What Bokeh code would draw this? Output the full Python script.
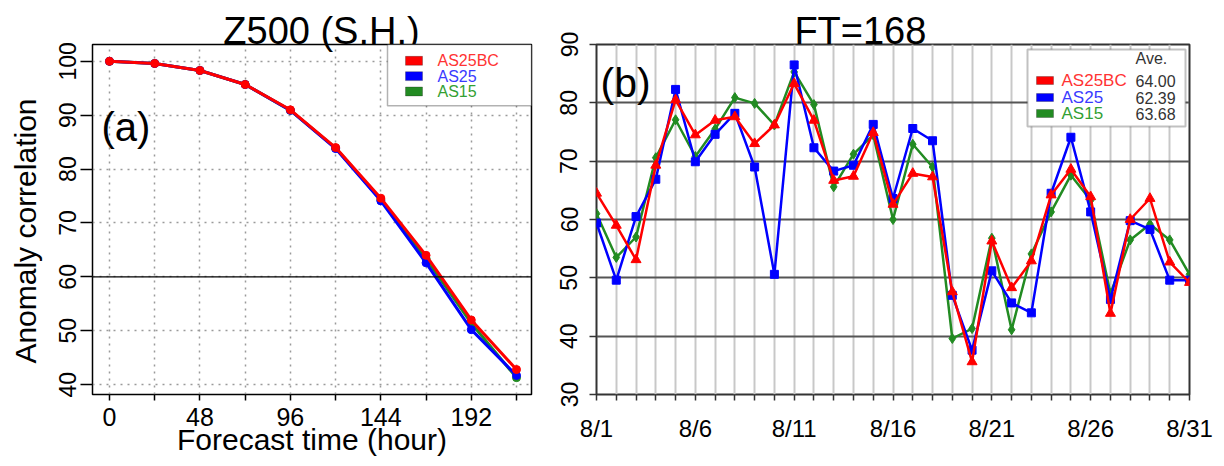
import math
from bokeh.plotting import figure
from bokeh.models import Range1d, FixedTicker, Span, Label, BoxAnnotation, LinearAxis
from bokeh.layouts import row
from bokeh.embed import file_html
from bokeh.resources import INLINE

FONT = "Liberation Sans"

# ---------------- data ----------------
series_names = ["AS25BC", "AS25", "AS15"]
series_colors = ["#ff0000", "#0000ff", "#228b22"]
legend_text_colors = ["#ff3333", "#3a3aff", "#33a033"]

# Panel (a): anomaly correlation vs forecast time
lead_hours = [0, 24, 48, 72, 96, 120, 144, 168, 192, 216]
lead_labels = ["0", "", "48", "", "96", "", "144", "", "192", ""]
acc_as25bc = [100.0, 99.6, 98.3, 95.7, 91.0, 84.0, 74.6, 64.0, 52.0, 42.8]
acc_as25 = [100.0, 99.6, 98.3, 95.7, 90.9, 83.8, 74.1, 62.6, 50.2, 41.7]
acc_as15 = [100.0, 99.6, 98.3, 95.7, 90.9, 83.9, 74.3, 63.4, 51.4, 41.3]
acc_yticks = [40, 50, 60, 70, 80, 90, 100]

# Panel (b): FT=168 daily scores in August
days = list(range(1, 32))
day_tick_labels = {1: "8/1", 6: "8/6", 11: "8/11", 16: "8/16", 21: "8/21", 26: "8/26", 31: "8/31"}
ft168_as25bc = [64.5, 59.0, 53.1, 69.3, 80.5, 74.5, 77.0, 77.6, 73.0, 76.2,
                83.3, 77.0, 66.7, 67.4, 74.9, 62.6, 67.9, 67.3, 47.6, 35.6,
                56.3, 48.3, 52.9, 64.2, 68.6, 63.9, 43.9, 60.0, 63.6, 52.7, 49.2]
ft168_as25 = [59.4, 49.6, 60.5, 66.9, 82.3, 69.9, 74.6, 78.2, 69.0, 50.6,
              86.5, 72.3, 68.3, 69.3, 76.3, 63.6, 75.6, 73.5, 47.0, 37.6,
              51.2, 45.7, 44.0, 64.5, 74.1, 61.3, 46.3, 59.8, 58.3, 49.6, 49.6]
ft168_as15 = [61.0, 53.5, 57.0, 70.6, 77.1, 70.8, 75.5, 80.9, 79.9, 76.2,
              85.3, 79.7, 65.6, 71.2, 74.5, 60.0, 72.9, 69.0, 39.6, 41.3,
              56.8, 41.1, 54.1, 61.3, 67.6, 63.3, 47.3, 56.5, 59.2, 56.5, 50.6]
ft168_yticks = [30, 40, 50, 60, 70, 80, 90]
ft168_ave = ["64.00", "62.39", "63.68"]

title_a = "Z500 (S.H.)"
title_b = "FT=168"
xlabel_a = "Forecast time (hour)"
ylabel_a = "Anomaly correlation"


def text_axis(center, text, standoff, size, orientation="horizontal"):
    """An axis with a single, tick-less label used to place a text outside the frame."""
    ax = LinearAxis(ticker=FixedTicker(ticks=[center]), major_label_overrides={center: text})
    ax.axis_line_color = None
    ax.major_tick_line_color = None
    ax.minor_tick_line_color = None
    ax.major_tick_in = 0
    ax.major_tick_out = 0
    ax.major_label_standoff = standoff
    ax.major_label_orientation = orientation
    ax.major_label_text_font = FONT
    ax.major_label_text_font_size = size
    ax.major_label_text_color = "black"
    return ax


# ---------------- panel (a) ----------------
WA = 540
AX0, AX1, AY0, AY1 = -9.02, 223.96, 38.17, 103.12
A_L, A_R, A_T, A_B = 92, 531, 43, 397

def lx(X):
    return AX0 + (X - A_L) * (AX1 - AX0) / (A_R - A_L)

def ly(Y):
    return AY1 - (Y - A_T) * (AY1 - AY0) / (A_B - A_T)

pa = figure(width=WA, height=466, x_range=Range1d(AX0, AX1), y_range=Range1d(AY0, AY1),
            output_backend="svg", toolbar_location=None, title=None,
            min_border_left=A_L, min_border_right=WA - A_R,
            min_border_top=A_T, min_border_bottom=466 - A_B)
pa.background_fill_color = "white"
pa.border_fill_color = "white"
pa.outline_line_color = "black"
pa.outline_line_width = 1.5

pa.xaxis.ticker = FixedTicker(ticks=lead_hours)
pa.xaxis.major_label_overrides = {h: lab for h, lab in zip(lead_hours, lead_labels)}
pa.yaxis.ticker = FixedTicker(ticks=acc_yticks)
pa.yaxis.major_label_orientation = "parallel"
for ax in (pa.xaxis[0], pa.yaxis[0]):
    ax.axis_line_color = None
    ax.major_tick_in = 0
    ax.minor_tick_line_color = None
    ax.major_tick_line_color = "black"
    ax.major_tick_line_width = 1.5
    ax.major_label_text_font = FONT
    ax.major_label_text_color = "black"
    ax.axis_label_text_font = FONT
    ax.axis_label_text_font_style = "normal"
    ax.axis_label_text_font_size = "30px"
    ax.axis_label_text_color = "black"
pa.xaxis.major_tick_out = 6
pa.xaxis.major_label_text_font_size = "25px"
pa.xaxis.major_label_standoff = 7
pa.xaxis.axis_label = xlabel_a
pa.xaxis.axis_label_standoff = -6
pa.yaxis.major_tick_out = 12
pa.yaxis.major_label_text_font_size = "23px"
pa.yaxis.major_label_standoff = 4
# y-axis title, placed a little below the frame centre as in the original
pa.add_layout(text_axis(68.5, ylabel_a, 14, "30px", "parallel"), "left")

for g in (pa.xgrid[0], pa.ygrid[0]):
    g.grid_line_color = "#9a9a9a"
    g.grid_line_width = 1.5
    g.grid_line_dash = "2 5"
pa.add_layout(Span(location=60, dimension="width", line_color="black", line_width=1.3))

for vals, col in [(acc_as15, series_colors[2]), (acc_as25, series_colors[1]), (acc_as25bc, series_colors[0])]:
    pa.line(lead_hours, vals, line_color=col, line_width=3)
    pa.scatter(lead_hours, vals, marker="circle", size=8, fill_color=col, line_color=col)

# legend (a)
pa.add_layout(BoxAnnotation(left=lx(387), right=lx(531), top=ly(43), bottom=ly(105),
                            fill_color="white", fill_alpha=1, line_color="black", line_width=1.5))
for i, (name, col, tcol) in enumerate(zip(series_names, series_colors, legend_text_colors)):
    cy = [59.5, 75, 90.5][i]
    pa.add_layout(BoxAnnotation(left=lx(405), right=lx(422), top=ly(cy - 4.5), bottom=ly(cy + 4.5),
                                fill_color=col, fill_alpha=1, line_color="#222222", line_width=1))
    pa.add_layout(Label(x=lx(437), y=ly(cy), text=name, text_align="left", text_baseline="middle",
                        text_font=FONT, text_font_size="16px", text_color=tcol))

pa.add_layout(Label(x=lx(101), y=ly(126), text="(a)", text_align="left",
                    text_baseline="alphabetic", text_font=FONT, text_font_size="40px", text_color="black"))
pa.add_layout(text_axis(112.5, title_a, -7, "38px"), "above")

# ---------------- panel (b) ----------------
OFF = 540
WB = 1224 - OFF
B_L, B_R, B_T, B_B = 596, 1189, 44, 394

def rx(X):
    return 1 + (X - B_L) * 30.0 / (B_R - B_L)

def ry(Y):
    return 90 - (Y - B_T) * 60.0 / (B_B - B_T)

pb = figure(width=WB, height=466, x_range=Range1d(1, 31), y_range=Range1d(30, 90),
            output_backend="svg", toolbar_location=None, title=None,
            min_border_left=B_L - OFF, min_border_right=OFF + WB - B_R,
            min_border_top=B_T, min_border_bottom=466 - B_B)
pb.background_fill_color = "white"
pb.border_fill_color = "white"
pb.outline_line_color = "#333333"
pb.outline_line_width = 2

pb.xaxis.ticker = FixedTicker(ticks=days)
pb.xaxis.major_label_overrides = {d: day_tick_labels.get(d, "") for d in days}
pb.yaxis.ticker = FixedTicker(ticks=ft168_yticks)
pb.yaxis.major_label_orientation = "parallel"
for ax in (pb.xaxis[0], pb.yaxis[0]):
    ax.axis_line_color = None
    ax.major_tick_in = 0
    ax.minor_tick_line_color = None
    ax.major_tick_line_color = "#333333"
    ax.major_tick_line_width = 1.5
    ax.major_label_text_font = FONT
    ax.major_label_text_color = "black"
pb.xaxis.major_tick_out = 6
pb.xaxis.major_label_text_font_size = "24px"
pb.xaxis.major_label_standoff = 14
pb.yaxis.major_tick_out = 7
pb.yaxis.major_label_text_font_size = "23px"
pb.yaxis.major_label_standoff = 12

pb.xgrid[0].grid_line_color = "#c8c8c8"
pb.xgrid[0].grid_line_width = 2
pb.ygrid[0].grid_line_color = "#555555"
pb.ygrid[0].grid_line_width = 2

pb.line(days, ft168_as15, line_color=series_colors[2], line_width=2.5)
pb.scatter(days, ft168_as15, marker="diamond", size=10, fill_color=series_colors[2], line_color=series_colors[2])
pb.line(days, ft168_as25, line_color=series_colors[1], line_width=2.5)
pb.scatter(days, ft168_as25, marker="square", size=8, fill_color=series_colors[1], line_color=series_colors[1])
pb.line(days, ft168_as25bc, line_color=series_colors[0], line_width=2.5)
pb.scatter(days, ft168_as25bc, marker="triangle", size=10, fill_color=series_colors[0], line_color=series_colors[0])

# legend (b)
pb.add_layout(BoxAnnotation(left=rx(1027), right=rx(1185), top=ry(49), bottom=ry(126),
                            fill_color="white", fill_alpha=1, line_color="#333333", line_width=2))
pb.add_layout(Label(x=rx(1135), y=ry(58), text="Ave.", text_align="left", text_baseline="middle",
                    text_font=FONT, text_font_size="16px", text_color="#333333"))
for i, (name, col, tcol, ave) in enumerate(zip(series_names, series_colors, legend_text_colors, ft168_ave)):
    cy = [80, 97, 113][i]
    pb.add_layout(BoxAnnotation(left=rx(1036), right=rx(1053), top=ry(cy - 4), bottom=ry(cy + 4),
                                fill_color=col, fill_alpha=1, line_color="#222222", line_width=1))
    pb.add_layout(Label(x=rx(1061), y=ry(cy), text=name, text_align="left", text_baseline="middle",
                        text_font=FONT, text_font_size="17px", text_color=tcol))
    pb.add_layout(Label(x=rx(1135), y=ry(cy), text=ave, text_align="left", text_baseline="middle",
                        text_font=FONT, text_font_size="16px", text_color="#333333"))

pb.add_layout(Label(x=rx(600), y=ry(82), text="(b)", text_align="left",
                    text_baseline="alphabetic", text_font=FONT, text_font_size="41px", text_color="black"))
pb.add_layout(text_axis(14.35, title_b, -7, "38px"), "above")

layout = row(pa, pb)
open("out.html", "w").write(file_html(layout, INLINE))
